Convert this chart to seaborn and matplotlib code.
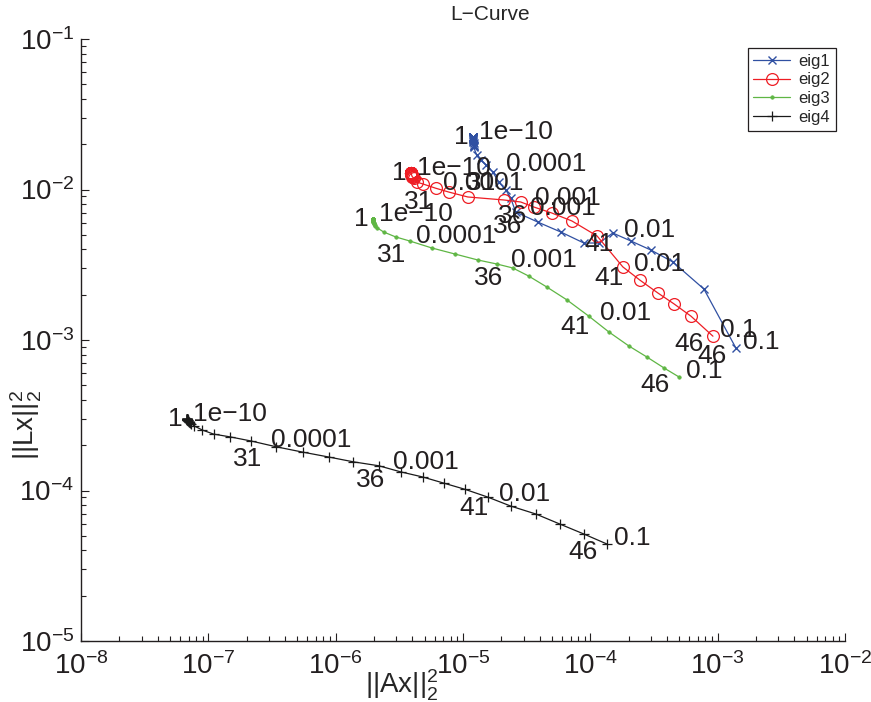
import pandas as pd
import seaborn as sns
import matplotlib
matplotlib.use('Agg')
import matplotlib.pyplot as plt
from matplotlib.ticker import LogLocator, NullFormatter

# L-curve points, index 1..46 (lambda from 1e-10 to 0.1)
eig1_x = [1.19e-5, 1.19e-5, 1.19e-5, 1.19e-5, 1.19e-5, 1.19e-5, 1.19e-5, 1.19e-5, 1.19e-5, 1.19e-5,
          1.19e-5, 1.19e-5, 1.19e-5, 1.19e-5, 1.19e-5, 1.19e-5, 1.19e-5, 1.19e-5, 1.19e-5, 1.20e-5,
          1.20e-5, 1.20e-5, 1.20e-5, 1.21e-5, 1.21e-5, 1.21e-5, 1.21e-5, 1.21e-5,
          1.28e-5, 1.38e-5, 1.51e-5, 1.71e-5, 1.91e-5, 2.17e-5, 2.37e-5, 2.59e-5, 3.86e-5, 5.86e-5,
          8.89e-5, 1.17e-4, 1.50e-4, 2.08e-4, 2.99e-4, 4.45e-4, 7.80e-4, 1.39e-3]
eig1_y = [2.23e-2, 2.23e-2, 2.23e-2, 2.23e-2, 2.23e-2, 2.23e-2, 2.23e-2, 2.23e-2, 2.22e-2, 2.22e-2,
          2.22e-2, 2.22e-2, 2.22e-2, 2.22e-2, 2.22e-2, 2.21e-2, 2.20e-2, 2.19e-2, 2.17e-2, 2.15e-2,
          2.13e-2, 2.10e-2, 2.07e-2, 2.03e-2, 1.99e-2, 1.96e-2, 1.94e-2, 1.92e-2,
          1.70e-2, 1.57e-2, 1.46e-2, 1.31e-2, 1.12e-2, 9.92e-3, 8.78e-3, 7.09e-3, 6.08e-3, 5.22e-3,
          4.41e-3, 4.41e-3, 5.14e-3, 4.55e-3, 3.96e-3, 3.30e-3, 2.18e-3, 8.85e-4]

eig2_x = [3.90e-6, 3.90e-6, 3.90e-6, 3.90e-6, 3.90e-6, 3.90e-6, 3.90e-6, 3.90e-6, 3.90e-6, 3.90e-6,
          3.90e-6, 3.90e-6, 3.90e-6, 3.90e-6, 3.90e-6, 3.90e-6, 3.91e-6, 3.91e-6, 3.92e-6, 3.92e-6,
          3.93e-6, 3.93e-6, 3.94e-6, 3.95e-6, 3.96e-6, 3.97e-6, 3.99e-6, 4.02e-6,
          4.10e-6, 4.33e-6, 4.82e-6, 6.10e-6, 7.72e-6, 1.09e-5, 2.09e-5, 2.84e-5, 3.60e-5, 4.98e-5,
          7.16e-5, 1.13e-4, 1.80e-4, 2.45e-4, 3.40e-4, 4.53e-4, 6.17e-4, 9.18e-4]
eig2_y = [1.29e-2, 1.29e-2, 1.29e-2, 1.29e-2, 1.29e-2, 1.29e-2, 1.29e-2, 1.29e-2, 1.29e-2, 1.29e-2,
          1.29e-2, 1.29e-2, 1.29e-2, 1.29e-2, 1.29e-2, 1.29e-2, 1.28e-2, 1.28e-2, 1.28e-2, 1.27e-2,
          1.27e-2, 1.26e-2, 1.26e-2, 1.25e-2, 1.24e-2, 1.23e-2, 1.22e-2, 1.21e-2,
          1.19e-2, 1.12e-2, 1.09e-2, 1.02e-2, 9.62e-3, 8.92e-3, 8.52e-3, 8.26e-3, 7.65e-3, 6.98e-3,
          6.18e-3, 4.91e-3, 3.06e-3, 2.50e-3, 2.05e-3, 1.74e-3, 1.44e-3, 1.06e-3]

eig3_x = [1.95e-6, 1.95e-6, 1.95e-6, 1.95e-6, 1.95e-6, 1.95e-6, 1.95e-6, 1.95e-6, 1.95e-6, 1.95e-6,
          1.95e-6, 1.95e-6, 1.95e-6, 1.95e-6, 1.95e-6, 1.95e-6, 1.95e-6, 1.96e-6, 1.96e-6, 1.96e-6,
          1.97e-6, 1.97e-6, 1.98e-6, 1.99e-6, 2.00e-6, 2.01e-6, 2.03e-6, 2.05e-6,
          2.13e-6, 2.38e-6, 2.96e-6, 3.81e-6, 5.68e-6, 8.61e-6, 1.31e-5, 1.84e-5, 2.46e-5, 3.28e-5,
          4.55e-5, 6.53e-5, 9.73e-5, 1.40e-4, 2.01e-4, 2.78e-4, 3.79e-4, 4.97e-4]
eig3_y = [6.37e-3, 6.37e-3, 6.37e-3, 6.37e-3, 6.37e-3, 6.37e-3, 6.37e-3, 6.37e-3, 6.37e-3, 6.37e-3,
          6.37e-3, 6.37e-3, 6.37e-3, 6.37e-3, 6.36e-3, 6.34e-3, 6.32e-3, 6.29e-3, 6.25e-3, 6.21e-3,
          6.17e-3, 6.12e-3, 6.07e-3, 6.02e-3, 5.96e-3, 5.90e-3, 5.82e-3, 5.72e-3,
          5.55e-3, 5.22e-3, 4.84e-3, 4.55e-3, 4.09e-3, 3.73e-3, 3.40e-3, 3.20e-3, 3.01e-3, 2.66e-3,
          2.25e-3, 1.85e-3, 1.44e-3, 1.13e-3, 9.12e-4, 7.71e-4, 6.52e-4, 5.68e-4]

eig4_x = [6.80e-8, 6.80e-8, 6.80e-8, 6.80e-8, 6.80e-8, 6.80e-8, 6.80e-8, 6.80e-8, 6.80e-8, 6.80e-8,
          6.80e-8, 6.80e-8, 6.80e-8, 6.81e-8, 6.82e-8, 6.83e-8, 6.84e-8, 6.86e-8, 6.88e-8, 6.90e-8,
          6.93e-8, 6.96e-8, 7.00e-8, 7.05e-8, 7.12e-8,
          7.35e-8, 7.78e-8, 8.99e-8, 1.10e-7, 1.49e-7, 2.18e-7, 3.43e-7, 5.49e-7, 8.79e-7, 1.38e-6,
          2.18e-6, 3.24e-6, 4.82e-6, 7.05e-6, 1.03e-5, 1.56e-5, 2.37e-5, 3.73e-5, 5.75e-5, 8.89e-5,
          1.35e-4]
eig4_y = [2.98e-4, 2.98e-4, 2.98e-4, 2.98e-4, 2.98e-4, 2.98e-4, 2.98e-4, 2.98e-4, 2.98e-4, 2.98e-4,
          2.98e-4, 2.98e-4, 2.98e-4, 2.97e-4, 2.97e-4, 2.96e-4, 2.95e-4, 2.94e-4, 2.93e-4, 2.92e-4,
          2.90e-4, 2.88e-4, 2.86e-4, 2.84e-4, 2.81e-4,
          2.78e-4, 2.68e-4, 2.52e-4, 2.37e-4, 2.27e-4, 2.13e-4, 1.95e-4, 1.80e-4, 1.67e-4, 1.55e-4,
          1.46e-4, 1.33e-4, 1.23e-4, 1.12e-4, 1.02e-4, 9.05e-5, 7.88e-5, 6.98e-5, 5.99e-5, 5.14e-5,
          4.41e-5]

# labelled points and their regularisation parameter
label_idx = [1, 31, 36, 41, 46]
label_lam = ['1e\u221210', '0.0001', '0.001', '0.01', '0.1']

sns.set_style('ticks')
plt.rcParams['font.family'] = ['Liberation Sans', 'DejaVu Sans']
plt.rcParams['mathtext.fontset'] = 'custom'
plt.rcParams['mathtext.rm'] = 'Liberation Sans'
plt.rcParams['mathtext.it'] = 'Liberation Sans:italic'
plt.rcParams['mathtext.default'] = 'regular'

fig = plt.figure(figsize=(8.71, 7.02), dpi=100)
ax = fig.add_axes([81 / 871, 1 - 641 / 702, 764 / 871, 602 / 702])
ax.set_xscale('log')
ax.set_yscale('log')

curves = [
    ('eig1', eig1_x, eig1_y, '#3050a2', dict(marker='x', ms=5.5, mew=1.0)),
    ('eig2', eig2_x, eig2_y, '#ee1d24', dict(marker='o', ms=8.5, mew=0.9, mfc='none')),
    ('eig3', eig3_x, eig3_y, '#5fb644', dict(marker='.', ms=5, mew=0.5)),
    ('eig4', eig4_x, eig4_y, '#1a1a1a', dict(marker='+', ms=7, mew=0.9)),
]

# text offsets (pixels) for index labels and lambda labels
idx_off = {1: (-4, 0), 31: (-4, -18), 36: (-8, -14), 41: (-14, -11), 46: (-24, -8)}
lam_off = {1: (6, 5), 31: (20, 1), 36: (14, 4), 41: (11, 3), 46: (7, 6)}

for name, xs, ys, col, mk in curves:
    df = pd.DataFrame({'x': xs, 'y': ys})
    sns.lineplot(data=df, x='x', y='y', sort=False, estimator=None, color=col,
                 lw=0.9, mec=col, label=name, legend=False, ax=ax, **mk)
    for i, lam in zip(label_idx, label_lam):
        px, py = xs[i - 1], ys[i - 1]
        ax.annotate(str(i), (px, py), xytext=idx_off[i], textcoords='offset pixels',
                    ha='right' if i == 1 else 'center', va='center', fontsize=19, color='#231f20')
        ax.annotate(lam, (px, py), xytext=lam_off[i], textcoords='offset pixels',
                    ha='left', va='center', fontsize=19, color='#231f20')

ax.set_xlim(1e-8, 1e-2)
ax.set_ylim(1e-5, 1e-1)
ax.xaxis.set_major_locator(LogLocator(base=10, numticks=10))
ax.yaxis.set_major_locator(LogLocator(base=10, numticks=10))
ax.xaxis.set_minor_locator(LogLocator(base=10, subs=range(2, 10), numticks=20))
ax.yaxis.set_minor_locator(LogLocator(base=10, subs=range(2, 10), numticks=20))
ax.xaxis.set_minor_formatter(NullFormatter())
ax.yaxis.set_minor_formatter(NullFormatter())
ax.tick_params(which='both', direction='in', top=False, right=False, width=0.8, colors='#231f20')
ax.tick_params(which='major', length=6, labelsize=20)
ax.tick_params(axis='x', which='major', pad=8)
ax.tick_params(axis='y', which='major', pad=5)
ax.tick_params(which='minor', length=3.5)
for s in ['top', 'right']:
    ax.spines[s].set_visible(False)
for s in ['left', 'bottom']:
    ax.spines[s].set_linewidth(1.0)
    ax.spines[s].set_color('#231f20')

ax.set_xlabel('||Ax||$_2^2$', fontsize=20)
ax.set_ylabel('||Lx||$_2^2$', fontsize=20)
ax.xaxis.set_label_coords((402 - 81) / 764, -(685 - 641) / 602)
ax.yaxis.set_label_coords(-(81 - 26) / 764, (641 - 425) / 602)
ax.xaxis.label.set_va('center')
ax.yaxis.label.set_va('center')

fig.text(490 / 871, 1 - 15 / 702, 'L\u2212Curve', ha='center', va='center', fontsize=15)

leg = ax.legend(handles=ax.get_lines()[:4], loc='upper right',
                bbox_to_anchor=((836 - 81) / 764, (641 - 48) / 602), borderaxespad=0,
                fontsize=12, frameon=True, fancybox=False, framealpha=1,
                handlelength=2.2, labelspacing=0.22, borderpad=0.35, handletextpad=0.5)
leg.get_frame().set_edgecolor('#231f20')
leg.get_frame().set_linewidth(0.9)

fig.savefig('out.png', dpi=100)
